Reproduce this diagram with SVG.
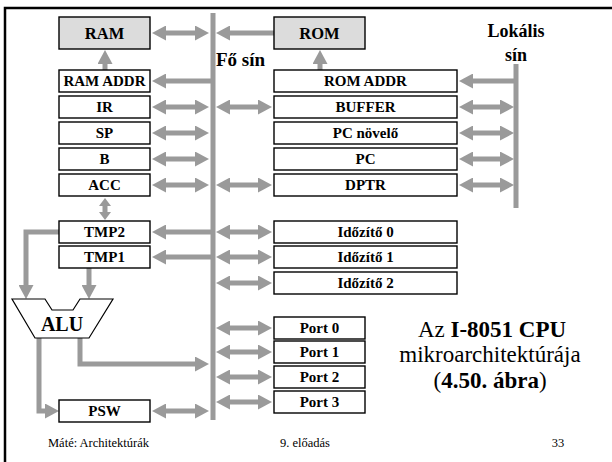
<svg xmlns="http://www.w3.org/2000/svg" width="612" height="462" viewBox="0 0 612 462">
<style>
.box{fill:#fff;stroke:#000;stroke-width:1.4}
.mem{fill:#dcdcdc;stroke:#000;stroke-width:1.4}
.lbl{font-family:"Liberation Serif","Times New Roman",serif;font-weight:bold;font-size:15px;text-anchor:middle;fill:#000}
.big{font-size:16.5px}
.bus{stroke:#9a9a9a;stroke-width:5;fill:none}
.ar{stroke:#9a9a9a;stroke-width:5;fill:none;marker-end:url(#ah)}
.ar2{stroke:#9a9a9a;stroke-width:5;fill:none;marker-start:url(#ah);marker-end:url(#ah)}
.foot{font-family:"Liberation Serif","Times New Roman",serif;font-size:12.5px;fill:#000}
.cap{font-family:"Liberation Serif","Times New Roman",serif;font-size:23px;text-anchor:middle;fill:#000}
</style>
<defs>
<marker id="ah" viewBox="0 0 14 15" markerWidth="14" markerHeight="15" refX="4" refY="7.5" orient="auto-start-reverse" markerUnits="userSpaceOnUse">
<path d="M0,0 L14,7.5 L0,15 z" fill="#9a9a9a"/>
</marker>
</defs>
<rect width="612" height="462" fill="#fff"/>
<path d="M5,462 V8 H612" fill="none" stroke="#000" stroke-width="2.5"/>

<g id="connectors">
<line class="bus" x1="213" y1="13" x2="213" y2="420"/>
<line class="bus" x1="516" y1="64" x2="516" y2="208"/>
<line class="ar2" x1="162" y1="33" x2="199" y2="33"/>
<line class="ar" x1="213" y1="81" x2="162" y2="81"/>
<line class="ar2" x1="162" y1="107" x2="199" y2="107"/>
<line class="ar2" x1="162" y1="133" x2="199" y2="133"/>
<line class="ar2" x1="162" y1="159" x2="199" y2="159"/>
<line class="ar2" x1="162" y1="185" x2="199" y2="185"/>
<line class="ar" x1="213" y1="232" x2="162" y2="232"/>
<line class="ar" x1="213" y1="257" x2="162" y2="257"/>
<line class="ar2" x1="162" y1="411" x2="199" y2="411"/>
<line class="ar" x1="274" y1="33" x2="226" y2="33"/>
<line class="ar2" x1="226" y1="107" x2="262" y2="107"/>
<line class="ar2" x1="226" y1="185" x2="262" y2="185"/>
<line class="ar2" x1="226" y1="232" x2="262" y2="232"/>
<line class="ar2" x1="226" y1="257" x2="262" y2="257"/>
<line class="ar2" x1="226" y1="283" x2="262" y2="283"/>
<line class="ar2" x1="226" y1="328" x2="262" y2="328"/>
<line class="ar2" x1="226" y1="352" x2="262" y2="352"/>
<line class="ar2" x1="226" y1="377" x2="262" y2="377"/>
<line class="ar2" x1="226" y1="402" x2="262" y2="402"/>
<line class="ar" x1="516" y1="81" x2="469" y2="81"/>
<line class="ar2" x1="469" y1="107" x2="504" y2="107"/>
<line class="ar2" x1="469" y1="133" x2="504" y2="133"/>
<line class="ar2" x1="469" y1="159" x2="504" y2="159"/>
<line class="ar2" x1="469" y1="185" x2="504" y2="185"/>
<line class="ar" x1="105" y1="70" x2="105" y2="60"/>
<line class="ar" x1="320" y1="70" x2="320" y2="60"/>
<polygon points="105,198 111,206 107.5,206 107.5,212 111,212 105,220 99,212 102.5,212 102.5,206 99,206" fill="#9a9a9a"/>
<path class="ar" d="M59,232 H26 V289"/>
<line class="ar" x1="89" y1="268" x2="89" y2="289"/>
<path class="ar" d="M39,338 V411 H49"/>
<path class="ar" d="M80,338 V364 H199"/>
</g>

<g id="ram"><rect class="mem" x="59" y="17" width="91" height="32"/><text class="lbl big" x="104.5" y="39">RAM</text></g>
<g id="rom"><rect class="mem" x="274" y="17" width="91" height="32"/><text class="lbl big" x="319.5" y="39">ROM</text></g>

<g id="ramaddr"><rect class="box" x="59" y="70" width="91" height="22"/><text class="lbl" x="104.5" y="86">RAM ADDR</text></g>
<g id="ir"><rect class="box" x="59" y="96" width="91" height="22"/><text class="lbl" x="104.5" y="112">IR</text></g>
<g id="sp"><rect class="box" x="59" y="122" width="91" height="22"/><text class="lbl" x="104.5" y="138">SP</text></g>
<g id="b"><rect class="box" x="59" y="148" width="91" height="22"/><text class="lbl" x="104.5" y="164">B</text></g>
<g id="acc"><rect class="box" x="59" y="174" width="91" height="22"/><text class="lbl" x="104.5" y="190">ACC</text></g>
<g id="tmp2"><rect class="box" x="59" y="221" width="91" height="22"/><text class="lbl" x="104.5" y="237">TMP2</text></g>
<g id="tmp1"><rect class="box" x="59" y="246" width="91" height="22"/><text class="lbl" x="104.5" y="262">TMP1</text></g>
<g id="psw"><rect class="box" x="59" y="400" width="91" height="22"/><text class="lbl" x="104.5" y="416">PSW</text></g>

<g id="alu"><polygon points="12,299 45,299 52,310 73,310 80,299 113,299 89,338 35,338" fill="#fff" stroke="#000" stroke-width="1.2"/><text class="lbl" style="font-size:20px" x="62" y="331">ALU</text></g>

<g id="romaddr"><rect class="box" x="274" y="70" width="183" height="22"/><text class="lbl" x="365.5" y="86">ROM ADDR</text></g>
<g id="buffer"><rect class="box" x="274" y="96" width="183" height="22"/><text class="lbl" x="365.5" y="112">BUFFER</text></g>
<g id="pcnovelo"><rect class="box" x="274" y="122" width="183" height="22"/><text class="lbl" x="365.5" y="138">PC növelő</text></g>
<g id="pc"><rect class="box" x="274" y="148" width="183" height="22"/><text class="lbl" x="365.5" y="164">PC</text></g>
<g id="dptr"><rect class="box" x="274" y="174" width="183" height="22"/><text class="lbl" x="365.5" y="190">DPTR</text></g>
<g id="timer0"><rect class="box" x="274" y="221" width="183" height="22"/><text class="lbl" x="365.5" y="237">Időzítő 0</text></g>
<g id="timer1"><rect class="box" x="274" y="246" width="183" height="22"/><text class="lbl" x="365.5" y="262">Időzítő 1</text></g>
<g id="timer2"><rect class="box" x="274" y="272" width="183" height="22"/><text class="lbl" x="365.5" y="288">Időzítő 2</text></g>

<g id="port0"><rect class="box" x="274" y="317" width="91" height="22"/><text class="lbl" x="319.5" y="333">Port 0</text></g>
<g id="port1"><rect class="box" x="274" y="341" width="91" height="22"/><text class="lbl" x="319.5" y="357">Port 1</text></g>
<g id="port2"><rect class="box" x="274" y="366" width="91" height="22"/><text class="lbl" x="319.5" y="382">Port 2</text></g>
<g id="port3"><rect class="box" x="274" y="391" width="91" height="22"/><text class="lbl" x="319.5" y="407">Port 3</text></g>

<text class="lbl" style="font-size:19px;text-anchor:start" x="216" y="66">Fő sín</text>
<text class="lbl" style="font-size:18px" x="516" y="37">Lokális</text>
<text class="lbl" style="font-size:18px" x="516" y="61">sín</text>

<text class="cap" x="492" y="337">Az <tspan font-weight="bold">I-8051 CPU</tspan></text>
<text class="cap" x="490" y="362">mikroarchitektúrája</text>
<text class="cap" x="490" y="388">(<tspan font-weight="bold">4.50. ábra</tspan>)</text>

<text class="foot" x="48" y="447">Máté: Architektúrák</text>
<text class="foot" x="305" y="447" text-anchor="middle">9. előadás</text>
<text class="foot" x="558" y="447" text-anchor="middle">33</text>
</svg>
